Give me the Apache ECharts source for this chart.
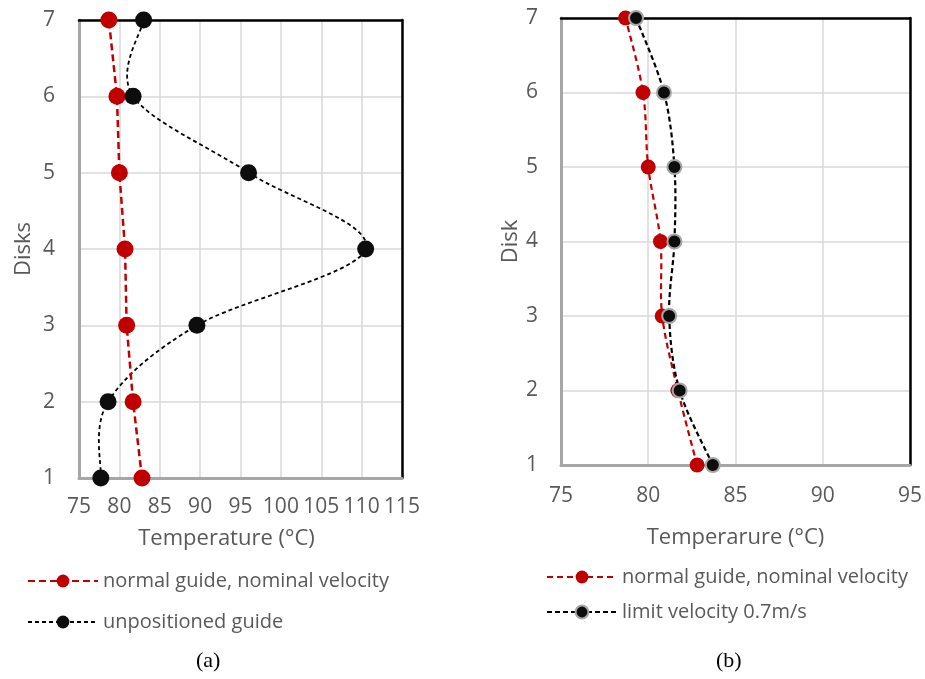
<!DOCTYPE html>
<html>
<head>
<meta charset="utf-8">
<script src="https://cdn.jsdelivr.net/npm/echarts@6/dist/echarts.min.js"></script>
<style>
  html, body { margin: 0; padding: 0; background: #fff; }
  #main { width: 925px; height: 679px; }
</style>
</head>
<body>
<div id="main"></div>
<script>
// disks 1..7 (y axis)
var disks = [1, 2, 3, 4, 5, 6, 7];

// (a) temperatures
var normalA = [82.8, 81.7, 80.9, 80.7, 80.0, 79.7, 78.7];
var unposA = [77.7, 78.6, 89.6, 110.5, 96.0, 81.7, 83.0];

// (b)
var normalB = [82.8, 81.7, 80.8, 80.7, 80.0, 79.7, 78.7];
var limitB = [83.7, 81.8, 81.2, 81.5, 81.5, 80.9, 79.3];

var xTicksA = [75, 115, 5];
var xTicksB = [75, 95, 5];

function pairs(xs) {
    return xs.map(function (v, i) { return [v, disks[i]]; });
}

var font = 'Open Sans';
var grey = '#595959';

function xAxisOf(idx, ticks, name, gap, margin, pad) {
    return {
        type: 'value', gridIndex: idx,
        min: ticks[0], max: ticks[1], interval: ticks[2],
        name: name, nameLocation: 'middle', nameGap: gap,
        nameTextStyle: { fontFamily: font, fontSize: 22, color: grey, padding: pad },
        axisLine: { show: true, lineStyle: { color: '#a6a6a6', width: 3 } },
        axisTick: { show: false },
        axisLabel: { fontFamily: font, fontSize: 21, color: grey, margin: margin },
        splitLine: { lineStyle: { color: '#d9d9d9', width: 1.5 } }
    };
}

function yAxisOf(idx, name, gap, margin) {
    return {
        type: 'value', gridIndex: idx,
        min: 1, max: 7, interval: 1,
        name: name, nameLocation: 'middle', nameGap: gap,
        nameTextStyle: { fontFamily: font, fontSize: 22, color: grey },
        axisLine: { show: true, lineStyle: { color: '#a6a6a6', width: 3 } },
        axisTick: { show: false },
        axisLabel: { fontFamily: font, fontSize: 21, color: grey, margin: margin },
        splitLine: { lineStyle: { color: '#d9d9d9', width: 1.5 } }
    };
}

// black frame on top / right
function frameAxis(kind, idx, ticks) {
    return {
        type: 'value', gridIndex: idx,
        position: kind === 'x' ? 'top' : 'right',
        min: ticks[0], max: ticks[1], interval: ticks[2],
        axisLine: { show: true, lineStyle: { color: '#000', width: 2.5 } },
        axisTick: { show: false }, axisLabel: { show: false }, splitLine: { show: false }
    };
}

// Excel-like smoothed line (Catmull-Rom), drawn through the axes with api.coord
function curveSeries(xs, idx, stroke, width, dash) {
    var pts = pairs(xs);
    return {
        type: 'custom', xAxisIndex: idx, yAxisIndex: idx, silent: true, z: 1,
        data: pts,
        renderItem: function (params, api) {
            if (params.dataIndex !== 0) return null;
            var p = pts.map(function (d) { return api.coord(d); });
            var n = p.length;
            var d = 'M' + p[0][0] + ' ' + p[0][1];
            for (var i = 0; i < n - 1; i++) {
                var a = p[i - 1] || p[i], b = p[i], c = p[i + 1], e = p[i + 2] || p[i + 1];
                var c1x = b[0] + (c[0] - a[0]) / 6, c1y = b[1] + (c[1] - a[1]) / 6;
                var c2x = c[0] - (e[0] - b[0]) / 6, c2y = c[1] - (e[1] - b[1]) / 6;
                d += ' C' + c1x + ' ' + c1y + ' ' + c2x + ' ' + c2y + ' ' + c[0] + ' ' + c[1];
            }
            return {
                type: 'path',
                shape: { pathData: d },
                style: { fill: 'none', stroke: stroke, lineWidth: width, lineDash: dash }
            };
        }
    };
}

var myChart = echarts.init(document.getElementById('main'));

var option = {
    animation: false,
    grid: [
        { left: 79, top: 20, width: 323, height: 458 },
        { left: 561, top: 18, width: 351, height: 447 }
    ],
    xAxis: [
        xAxisOf(0, xTicksA, 'Temperature (°C)', 50, 19, [0, 28, 0, 0]),
        xAxisOf(1, xTicksB, 'Temperarure (°C)', 62, 21, 0),
        frameAxis('x', 0, xTicksA),
        frameAxis('x', 1, xTicksB)
    ],
    yAxis: [
        yAxisOf(0, 'Disks', 44, 24),
        yAxisOf(1, 'Disk', 37, 23),
        frameAxis('y', 0, [1, 7, 1]),
        frameAxis('y', 1, [1, 7, 1])
    ],
    legend: [
        {
            orient: 'vertical', left: 22, top: 566, itemGap: 21,
            itemWidth: 70, itemHeight: 16,
            textStyle: { fontFamily: font, fontSize: 20, color: grey },
            data: [
                'normal guide, nominal velocity',
                { name: 'unpositioned guide', lineStyle: { opacity: 1 } }
            ]
        },
        {
            orient: 'vertical', left: 541, top: 562, itemGap: 15,
            itemWidth: 70, itemHeight: 16,
            textStyle: { fontFamily: font, fontSize: 20, color: grey },
            data: [
                { name: 'normal guide, nominal velocity ', lineStyle: { opacity: 1 } },
                { name: 'limit velocity 0.7m/s', lineStyle: { opacity: 1 } }
            ]
        }
    ],
    graphic: [
        { type: 'text', left: 196, top: 650, style: { text: '(a)', font: '22px "Liberation Serif"', fill: '#000' } },
        { type: 'text', left: 716, top: 650, style: { text: '(b)', font: '22px "Liberation Serif"', fill: '#000' } }
    ],
    series: [
        {
            name: 'normal guide, nominal velocity', type: 'line',
            xAxisIndex: 0, yAxisIndex: 0,
            data: pairs(normalA),
            symbol: 'circle', symbolSize: 17, z: 3,
            itemStyle: { color: '#c00000' },
            lineStyle: { color: '#c00000', width: 2.5, type: [7, 4] }
        },
        curveSeries(unposA, 0, '#000', 1.8, [4, 3]),
        {
            name: 'unpositioned guide', type: 'line',
            xAxisIndex: 0, yAxisIndex: 0,
            data: pairs(unposA),
            symbol: 'circle', symbolSize: 17, z: 3,
            itemStyle: { color: '#0d0d0d' },
            lineStyle: { color: '#000', width: 1.8, type: [4, 3], opacity: 0 }
        },
        curveSeries(normalB, 1, '#c00000', 2.2, [6, 4]),
        {
            name: 'normal guide, nominal velocity ', type: 'line',
            xAxisIndex: 1, yAxisIndex: 1,
            data: pairs(normalB),
            symbol: 'circle', symbolSize: 15, z: 3,
            itemStyle: { color: '#c00000' },
            lineStyle: { color: '#c00000', width: 2.2, type: [6, 4], opacity: 0 }
        },
        curveSeries(limitB, 1, '#000', 2.2, [5, 3]),
        {
            name: 'limit velocity 0.7m/s', type: 'line',
            xAxisIndex: 1, yAxisIndex: 1,
            data: pairs(limitB),
            symbol: 'circle', symbolSize: 14, z: 3,
            itemStyle: { color: '#0d0d0d', borderColor: '#a6a6a6', borderWidth: 2 },
            lineStyle: { color: '#000', width: 2.2, type: [5, 3], opacity: 0 }
        }
    ]
};

myChart.setOption(option);
</script>
</body>
</html>
